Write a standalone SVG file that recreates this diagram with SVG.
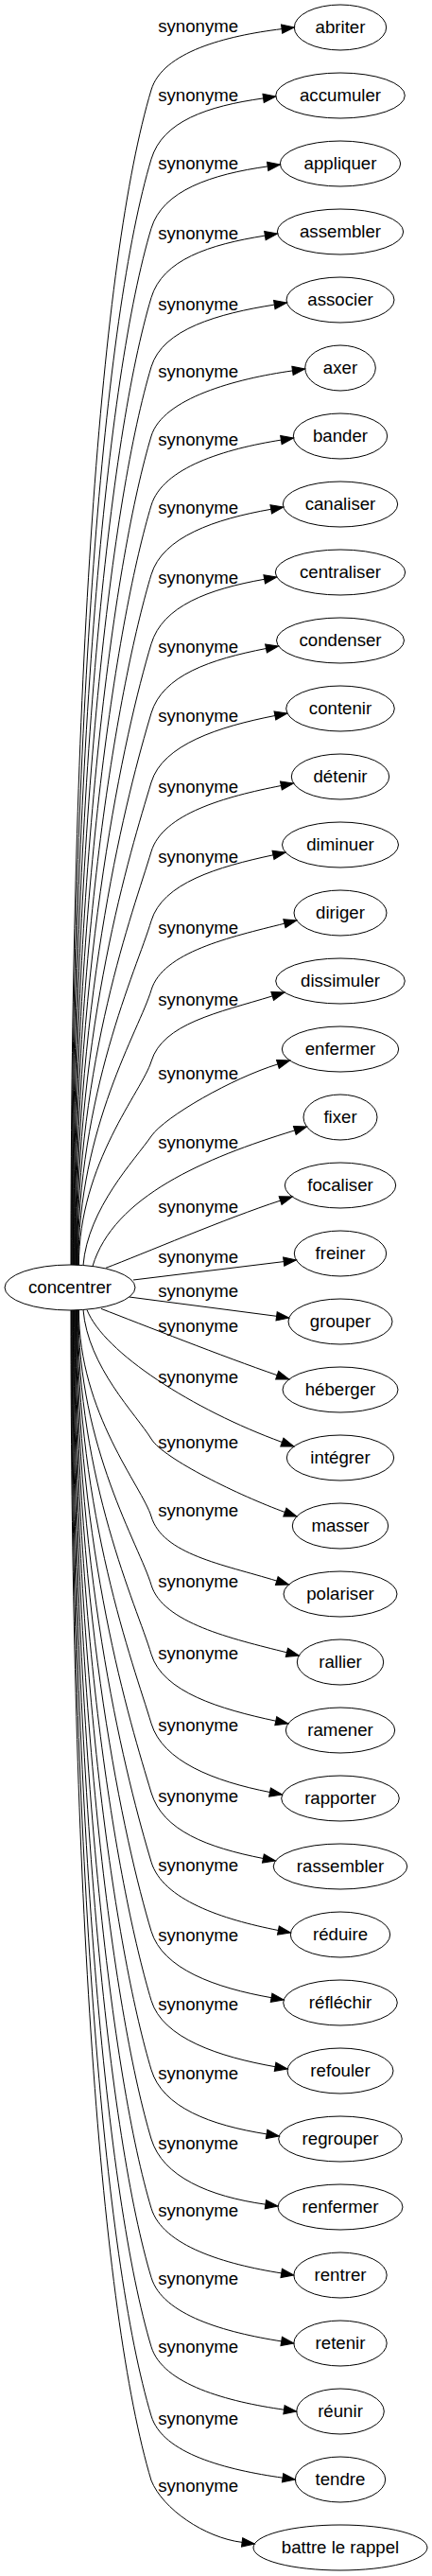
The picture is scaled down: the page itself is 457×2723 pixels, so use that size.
<svg xmlns="http://www.w3.org/2000/svg" width="457" height="2723" viewBox="0 0 457 2723">
<style>
.n ellipse{fill:none;stroke:#000;stroke-width:1}
.e path{fill:none;stroke:#000;stroke-width:1;marker-end:url(#ah)}
text{font-family:"Liberation Sans",Arial,sans-serif;font-size:18.67px;fill:#000;text-anchor:middle}
</style>
<defs>
<marker id="ah" markerWidth="15" markerHeight="12" refX="0" refY="4.67" orient="auto" markerUnits="userSpaceOnUse" overflow="visible">
<path d="M0,0 L13.3,4.67 L0,9.34 z" fill="#000" stroke="#000" stroke-width="1"/>
</marker>
</defs>
<rect width="457" height="2723" fill="#fff"/>
<g id="edges" class="e">
<g id="e0"><path d="M75,1337 C75,716 106.5,273.5 160,95 C172,55 238.6,37.9 298.1,30.6"/><text x="209.7" y="34.3">synonyme</text></g>
<g id="e1"><path d="M75.6,1337 C75.6,752.6 109.7,336.1 160,168.2 C172,128.2 219.2,112.2 278.6,103.9"/><text x="209.7" y="106.7">synonyme</text></g>
<g id="e2"><path d="M76.2,1337 C76.2,789.2 112.8,398.8 160,241.4 C172,201.4 223.8,184.2 283.2,175.9"/><text x="209.7" y="179">synonyme</text></g>
<g id="e3"><path d="M76.8,1337 C76.8,825.8 116,461.6 160,314.6 C172,274.6 221.1,258.5 280.4,249.1"/><text x="209.7" y="252.7">synonyme</text></g>
<g id="e4"><path d="M77.4,1337 C77.4,862.4 119.1,524.2 160,387.8 C172,347.8 231,331.5 290.3,322.1"/><text x="209.7" y="327.7">synonyme</text></g>
<g id="e5"><path d="M78,1337 C78,899 122.3,586.9 160,461 C172,421 250.1,400.2 309.5,391.9"/><text x="209.7" y="399">synonyme</text></g>
<g id="e6"><path d="M78.6,1337 C78.6,935.6 125.4,649.5 160,534.2 C172,494.2 238.1,474.5 297.4,465.1"/><text x="209.7" y="471">synonyme</text></g>
<g id="e7"><path d="M79.2,1337 C79.2,972.2 128.6,712.2 160,607.4 C172,567.4 227.6,548.7 286.7,538.3"/><text x="209.7" y="542.7">synonyme</text></g>
<g id="e8"><path d="M79.8,1337.1 C79.8,1008.8 131.7,775 160,680.6 C172,640.6 220.6,622.7 279.7,612.3"/><text x="209.7" y="616.7">synonyme</text></g>
<g id="e9"><path d="M80.4,1337.1 C80.4,1045.4 134.9,837.6 160,753.8 C172,713.8 222.6,697 281.5,685.5"/><text x="209.7" y="690">synonyme</text></g>
<g id="e10"><path d="M81,1337.1 C81,1082 138,900.3 160,827 C172,787 232,768 290.9,756.5"/><text x="209.7" y="763.3">synonyme</text></g>
<g id="e11"><path d="M81.6,1337.2 C81.6,1118.6 141.2,963 160,900.2 C172,860.2 238.5,842 297.4,830.5"/><text x="209.7" y="837.7">synonyme</text></g>
<g id="e12"><path d="M82.2,1337.2 C82.2,1155.2 144.4,1025.6 160,973.4 C172,933.4 230.3,916.3 289,903.8"/><text x="209.7" y="912.3">synonyme</text></g>
<g id="e13"><path d="M82.8,1337.2 C82.8,1191.8 147.5,1088.4 160,1046.6 C172,1006.6 242.7,990.7 300.9,976.2"/><text x="209.7" y="987.3">synonyme</text></g>
<g id="e14"><path d="M83.4,1337.2 C83.4,1229.5 150.7,1152.9 160,1122 C172,1082 230.8,1070.4 288.2,1052.9"/><text x="209.7" y="1062.7">synonyme</text></g>
<g id="e15"><path d="M88,1337.5 C93,1277 143,1225.8 160,1201 C174.2,1180.4 246.1,1139.5 293.9,1124.9"/><text x="209.7" y="1140.7">synonyme</text></g>
<g id="e16"><path d="M98,1338.4 C120,1265 216.2,1224.1 311.8,1194.9"/><text x="209.7" y="1214">synonyme</text></g>
<g id="e17"><path d="M112,1340.3 C150,1326 239.5,1287.6 296.6,1269.1"/><text x="209.7" y="1281.7">synonyme</text></g>
<g id="e18"><path d="M141,1353 L300.2,1333.6"/><text x="209.7" y="1335.3">synonyme</text></g>
<g id="e19"><path d="M136.7,1371 L292.6,1391.3"/><text x="209.7" y="1371.3">synonyme</text></g>
<g id="e20"><path d="M107,1383.4 C150,1400 236.5,1434.2 293.2,1453.7"/><text x="209.7" y="1408.3">synonyme</text></g>
<g id="e21"><path d="M92,1384.6 C110,1430 204.4,1490.3 298.4,1524.5"/><text x="209.7" y="1462">synonyme</text></g>
<g id="e22"><path d="M88,1384.5 C93,1445 144.3,1495.4 160,1521 C173.1,1542.3 254.4,1581.4 301.4,1598.5"/><text x="209.7" y="1531">synonyme</text></g>
<g id="e23"><path d="M83.4,1384.8 C83.4,1494 150.6,1571.7 160,1603 C172,1643 235.4,1653.6 292.8,1671.1"/><text x="209.7" y="1602.7">synonyme</text></g>
<g id="e24"><path d="M82.8,1384.8 C82.8,1530.2 147.5,1633.6 160,1675.4 C172,1715.4 245.2,1732.3 303.4,1746.8"/><text x="209.7" y="1678">synonyme</text></g>
<g id="e25"><path d="M82.2,1384.8 C82.2,1566.8 144.4,1696.4 160,1748.6 C172,1788.6 233.1,1806.8 291.8,1819.2"/><text x="209.7" y="1754">synonyme</text></g>
<g id="e26"><path d="M81.6,1384.8 C81.6,1603.4 141.2,1759 160,1821.8 C172,1861.8 226.6,1883 285.5,1894.5"/><text x="209.7" y="1830">synonyme</text></g>
<g id="e27"><path d="M81,1384.9 C81,1640 138,1821.7 160,1895 C172,1935 219.5,1953 278.4,1964.5"/><text x="209.7" y="1905">synonyme</text></g>
<g id="e28"><path d="M80.4,1384.9 C80.4,1676.6 134.9,1884.4 160,1968.2 C172,2008.2 235.5,2029 294.4,2040.5"/><text x="209.7" y="1978">synonyme</text></g>
<g id="e29"><path d="M79.8,1384.9 C79.8,1713.2 131.7,1947 160,2041.4 C172,2081.4 228,2101.3 287.1,2111.7"/><text x="209.7" y="2051.7">synonyme</text></g>
<g id="e30"><path d="M79.2,1385 C79.2,1749.8 128.6,2009.8 160,2114.6 C172,2154.6 232,2174.3 291.1,2184.7"/><text x="209.7" y="2125">synonyme</text></g>
<g id="e31"><path d="M78.6,1385 C78.6,1786.4 125.4,2072.5 160,2187.8 C172,2227.8 222.8,2246.5 282.1,2255.9"/><text x="209.7" y="2198.3">synonyme</text></g>
<g id="e32"><path d="M78,1385 C78,1823 122.3,2135.1 160,2261 C172,2301 221.5,2321.8 280.9,2330.2"/><text x="209.7" y="2271.7">synonyme</text></g>
<g id="e33"><path d="M77.4,1385 C77.4,1859.6 119.1,2197.8 160,2334.2 C172,2374.2 238.4,2393.5 297.7,2402.9"/><text x="209.7" y="2343">synonyme</text></g>
<g id="e34"><path d="M76.8,1385 C76.8,1896.2 116,2260.4 160,2407.4 C172,2447.4 238.4,2465.5 297.7,2474.9"/><text x="209.7" y="2415">synonyme</text></g>
<g id="e35"><path d="M76.2,1385 C76.2,1932.8 112.8,2323.2 160,2480.6 C172,2520.6 241.1,2538.8 300.5,2547.2"/><text x="209.7" y="2486.7">synonyme</text></g>
<g id="e36"><path d="M75.6,1385 C75.6,1969.4 109.7,2385.9 160,2553.8 C172,2593.8 239.7,2610.8 299.1,2619.2"/><text x="209.7" y="2562.7">synonyme</text></g>
<g id="e37"><path d="M75,1385 C75,2003.5 106.7,2444.2 160,2622 C172,2652 216.4,2682.5 256.1,2687.4"/><text x="209.7" y="2634.3">synonyme</text></g>
</g>
<g id="concentrer" class="n"><ellipse cx="74" cy="1361" rx="69" ry="24"/><text x="74" y="1367">concentrer</text></g>
<g id="abriter" class="n"><ellipse cx="360" cy="29" rx="48.7" ry="24"/><text x="360" y="35">abriter</text></g>
<g id="accumuler" class="n"><ellipse cx="360" cy="101" rx="68.3" ry="24"/><text x="360" y="107">accumuler</text></g>
<g id="appliquer" class="n"><ellipse cx="360" cy="173" rx="63.7" ry="24"/><text x="360" y="179">appliquer</text></g>
<g id="assembler" class="n"><ellipse cx="360" cy="245" rx="66.7" ry="24"/><text x="360" y="251">assembler</text></g>
<g id="associer" class="n"><ellipse cx="360" cy="317" rx="57" ry="24"/><text x="360" y="323">associer</text></g>
<g id="axer" class="n"><ellipse cx="360" cy="389" rx="37.3" ry="24"/><text x="360" y="395">axer</text></g>
<g id="bander" class="n"><ellipse cx="360" cy="461" rx="49.7" ry="24"/><text x="360" y="467">bander</text></g>
<g id="canaliser" class="n"><ellipse cx="360" cy="533" rx="60.7" ry="24"/><text x="360" y="539">canaliser</text></g>
<g id="centraliser" class="n"><ellipse cx="360" cy="605" rx="68.7" ry="24"/><text x="360" y="611">centraliser</text></g>
<g id="condenser" class="n"><ellipse cx="360" cy="677" rx="67.5" ry="24"/><text x="360" y="683">condenser</text></g>
<g id="contenir" class="n"><ellipse cx="360" cy="749" rx="57.3" ry="24"/><text x="360" y="755">contenir</text></g>
<g id="detenir" class="n"><ellipse cx="360" cy="821" rx="51.7" ry="24"/><text x="360" y="827">détenir</text></g>
<g id="diminuer" class="n"><ellipse cx="360" cy="893" rx="61.5" ry="24"/><text x="360" y="899">diminuer</text></g>
<g id="diriger" class="n"><ellipse cx="360" cy="965" rx="49" ry="24"/><text x="360" y="971">diriger</text></g>
<g id="dissimuler" class="n"><ellipse cx="360" cy="1037" rx="68.3" ry="24"/><text x="360" y="1043">dissimuler</text></g>
<g id="enfermer" class="n"><ellipse cx="360" cy="1109" rx="61.7" ry="24"/><text x="360" y="1115">enfermer</text></g>
<g id="fixer" class="n"><ellipse cx="360" cy="1181" rx="39" ry="24"/><text x="360" y="1187">fixer</text></g>
<g id="focaliser" class="n"><ellipse cx="360" cy="1253" rx="58.7" ry="24"/><text x="360" y="1259">focaliser</text></g>
<g id="freiner" class="n"><ellipse cx="360" cy="1325" rx="48.7" ry="24"/><text x="360" y="1331">freiner</text></g>
<g id="grouper" class="n"><ellipse cx="360" cy="1397" rx="55" ry="24"/><text x="360" y="1403">grouper</text></g>
<g id="heberger" class="n"><ellipse cx="360" cy="1469" rx="61" ry="24"/><text x="360" y="1475">héberger</text></g>
<g id="integrer" class="n"><ellipse cx="360" cy="1541" rx="56.7" ry="24"/><text x="360" y="1547">intégrer</text></g>
<g id="masser" class="n"><ellipse cx="360" cy="1613" rx="50.7" ry="24"/><text x="360" y="1619">masser</text></g>
<g id="polariser" class="n"><ellipse cx="360" cy="1685" rx="60" ry="24"/><text x="360" y="1691">polariser</text></g>
<g id="rallier" class="n"><ellipse cx="360" cy="1757" rx="45.7" ry="24"/><text x="360" y="1763">rallier</text></g>
<g id="ramener" class="n"><ellipse cx="360" cy="1829" rx="57.7" ry="24"/><text x="360" y="1835">ramener</text></g>
<g id="rapporter" class="n"><ellipse cx="360" cy="1901" rx="62.3" ry="24"/><text x="360" y="1907">rapporter</text></g>
<g id="rassembler" class="n"><ellipse cx="360" cy="1973" rx="70.8" ry="24"/><text x="360" y="1979">rassembler</text></g>
<g id="reduire" class="n"><ellipse cx="360" cy="2045" rx="52.7" ry="24"/><text x="360" y="2051">réduire</text></g>
<g id="reflechir" class="n"><ellipse cx="360" cy="2117" rx="60.3" ry="24"/><text x="360" y="2123">réfléchir</text></g>
<g id="refouler" class="n"><ellipse cx="360" cy="2189" rx="56" ry="24"/><text x="360" y="2195">refouler</text></g>
<g id="regrouper" class="n"><ellipse cx="360" cy="2261" rx="65.3" ry="24"/><text x="360" y="2267">regrouper</text></g>
<g id="renfermer" class="n"><ellipse cx="360" cy="2333" rx="66" ry="24"/><text x="360" y="2339">renfermer</text></g>
<g id="rentrer" class="n"><ellipse cx="360" cy="2405" rx="49.2" ry="24"/><text x="360" y="2411">rentrer</text></g>
<g id="retenir" class="n"><ellipse cx="360" cy="2477" rx="49.2" ry="24"/><text x="360" y="2483">retenir</text></g>
<g id="reunir" class="n"><ellipse cx="360" cy="2549" rx="46.3" ry="24"/><text x="360" y="2555">réunir</text></g>
<g id="tendre" class="n"><ellipse cx="360" cy="2621" rx="47.7" ry="24"/><text x="360" y="2627">tendre</text></g>
<g id="battre-le-rappel" class="n"><ellipse cx="360" cy="2693" rx="92" ry="24"/><text x="360" y="2699">battre le rappel</text></g>
</svg>
